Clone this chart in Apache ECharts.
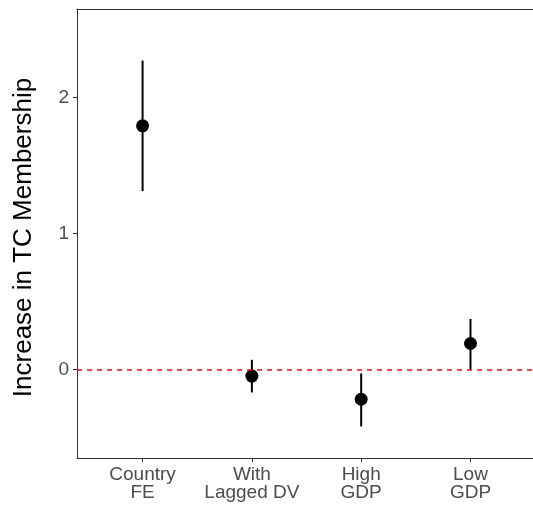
<!DOCTYPE html>
<html>
<head>
<meta charset="utf-8">
<script src="https://cdn.jsdelivr.net/npm/echarts@6/dist/echarts.min.js"></script>
<style>
html,body{margin:0;padding:0;background:#fff;}
#chart{width:533px;height:505px;}
</style>
</head>
<body>
<div id="chart"></div>
<script>
const categories = ["Country\nFE", "With\nLagged DV", "High\nGDP", "Low\nGDP"];
const estimates = [1.79, -0.05, -0.22, 0.19];
const lower = [1.31, -0.17, -0.42, 0.00];
const upper = [2.27, 0.07, -0.03, 0.37];
const yTicks = [0, 1, 2];
const refValue = 0;

const FONT = "'Liberation Sans', Arial, sans-serif";
const chart = echarts.init(document.getElementById('chart'), null, {renderer: 'canvas'});

const catIdx = categories.map((c, i) => i);
const pointData = estimates.map((v, i) => [i, v]);
const barData = lower.map((lo, i) => [i, lo, upper[i]]);
const X_MIN = -0.6, X_MAX = 3.572;

chart.setOption({
  animation: false,
  backgroundColor: '#ffffff',
  grid: {left: 77, top: 9, right: 0, bottom: 47, show: false},
  xAxis: [{
    type: 'value', min: X_MIN, max: X_MAX, position: 'bottom',
    splitLine: {show: false},
    axisLine: {show: true, onZero: false, lineStyle: {color: '#333333', width: 1}},
    axisTick: {show: true, length: 4, customValues: catIdx, lineStyle: {color: '#333333'}},
    axisLabel: {
      customValues: catIdx, margin: 8,
      formatter: v => categories[Math.round(v)] || '',
      color: '#4d4d4d', fontSize: 19, fontFamily: FONT, lineHeight: 18
    }
  }, {
    type: 'value', min: X_MIN, max: X_MAX, position: 'top',
    splitLine: {show: false},
    axisLine: {show: true, onZero: false, lineStyle: {color: '#333333', width: 1}},
    axisTick: {show: false}, axisLabel: {show: false}
  }],
  yAxis: {
    type: 'value', min: -0.652, max: 2.649,
    name: 'Increase in TC Membership', nameLocation: 'middle', nameGap: 40,
    nameTextStyle: {color: '#000000', fontSize: 26, fontFamily: FONT, padding: [0, 8, 0, 0]},
    splitLine: {show: false},
    axisLine: {show: true, onZero: false, lineStyle: {color: '#333333', width: 1}},
    axisTick: {show: true, length: 4, customValues: yTicks, lineStyle: {color: '#333333'}},
    axisLabel: {customValues: yTicks, margin: 8, color: '#4d4d4d', fontSize: 19, fontFamily: FONT,
      formatter: v => String(v)}
  },
  series: [
    {
      type: 'scatter', data: [], z: 1, silent: true,
      markLine: {
        silent: true, symbol: 'none', animation: false,
        label: {show: false},
        lineStyle: {color: '#ff0000', width: 1.5, type: [5, 5], opacity: 1},
        data: [{yAxis: refValue}]
      }
    },
    {
      type: 'custom', z: 2, silent: true,
      data: barData,
      renderItem: function (params, api) {
        const p1 = api.coord([api.value(0), api.value(1)]);
        const p2 = api.coord([api.value(0), api.value(2)]);
        return {type: 'line', shape: {x1: p1[0], y1: p1[1], x2: p2[0], y2: p2[1]},
          style: {stroke: '#000000', lineWidth: 2}};
      }
    },
    {
      type: 'scatter', z: 3, silent: true,
      data: pointData, symbol: 'circle', symbolSize: 13,
      itemStyle: {color: '#000000', opacity: 1}
    }
  ]
});
</script>
</body>
</html>
